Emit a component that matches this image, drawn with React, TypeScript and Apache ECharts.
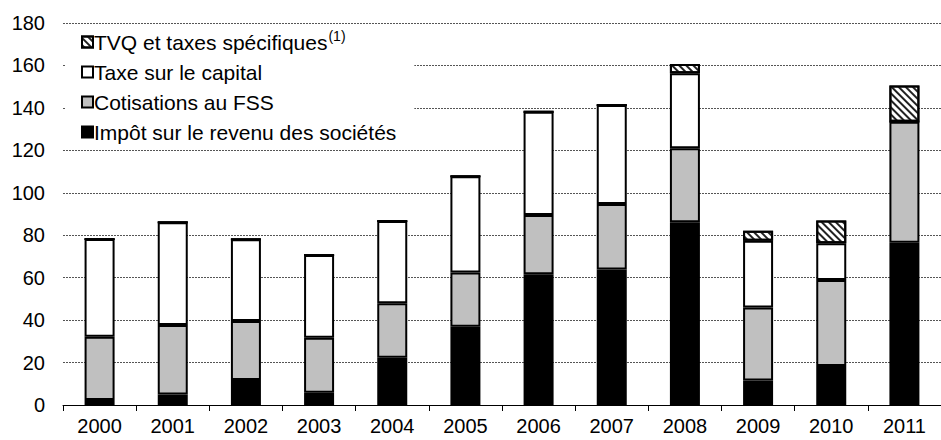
import React, { useEffect, useRef } from "react";
import * as echarts from "echarts";

const years = ["2000", "2001", "2002", "2003", "2004", "2005", "2006", "2007", "2008", "2009", "2010", "2011"];
const impot = [2.4, 5.0, 11.8, 5.8, 22.3, 36.9, 61.6, 63.9, 86.1, 11.5, 18.4, 76.5];
const fss = [29.8, 32.7, 27.8, 25.9, 25.6, 25.5, 27.9, 30.8, 34.9, 34.5, 40.5, 57.0];
const capital = [46.0, 48.4, 38.5, 39.0, 38.8, 45.4, 48.7, 46.7, 35.3, 31.4, 17.3, 0];
const tvq = [0, 0, 0, 0, 0, 0, 0, 0, 4.4, 4.7, 10.7, 17.0];
const names = ["TVQ et taxes spécifiques", "Taxe sur le capital", "Cotisations au FSS", "Impôt sur le revenu des sociétés"];

const FONT = "Liberation Sans, Arial, sans-serif";

export default function App() {
  const ref = useRef<HTMLDivElement>(null);
  useEffect(() => {
    const chart = echarts.init(ref.current!, null, { renderer: "svg" });
    const base = {
      type: "bar",
      stack: "total",
      barWidth: 30,
      itemStyle: { borderColor: "#000", borderWidth: 2 },
    };
    chart.setOption({
      animation: false,
      textStyle: { fontFamily: FONT },
      grid: { left: 63, right: 0, top: 23, bottom: 35 },
      legend: {
        orient: "vertical",
        left: 65,
        top: 25,
        backgroundColor: "#fff",
        padding: [4, 18, 4, 16],
        itemGap: 9,
        itemWidth: 11,
        itemHeight: 11,
        icon: "rect",
        data: names,
        textStyle: {
          fontSize: 21,
          color: "#000",
          fontFamily: FONT,
          padding: [0, 0, 0, -4],
          rich: { sup: { fontSize: 14, verticalAlign: "top", padding: [0, 0, 12, 1], color: "#000", fontFamily: FONT } },
        },
        formatter: (n: string) => (n === names[0] ? n + "{sup|(1)}" : n),
      },
      xAxis: {
        type: "category",
        data: years,
        axisLine: { lineStyle: { color: "#000", width: 1 } },
        axisTick: { show: true, length: 6, lineStyle: { color: "#000" } },
        axisLabel: { fontSize: 20, color: "#000", margin: 11, fontFamily: FONT },
      },
      yAxis: {
        type: "value",
        min: 0,
        max: 180,
        interval: 20,
        axisLine: { show: false },
        axisTick: { show: false },
        axisLabel: { fontSize: 20, color: "#000", margin: 18, fontFamily: FONT },
        splitLine: { lineStyle: { color: "#555", type: [2, 1], width: 1 } },
      },
      series: [
        { ...base, name: names[3], data: impot, itemStyle: { ...base.itemStyle, color: "#000" } },
        { ...base, name: names[2], data: fss, itemStyle: { ...base.itemStyle, color: "#c0c0c0" } },
        { ...base, name: names[1], data: capital, itemStyle: { ...base.itemStyle, color: "#fff" } },
        {
          ...base,
          name: names[0],
          data: tvq,
          itemStyle: {
            ...base.itemStyle,
            color: "#fff",
            decal: {
              symbol: "rect",
              symbolSize: 1,
              color: "#222",
              backgroundColor: "#fff",
              dashArrayX: [1, 0],
              dashArrayY: [1.6, 2.6],
              rotation: Math.PI / 4,
            },
          },
        },
      ],
    });
    return () => chart.dispose();
  }, []);
  return <div ref={ref} style={{ width: 941, height: 440, position: "absolute", left: 0, top: 0 }} />;
}
